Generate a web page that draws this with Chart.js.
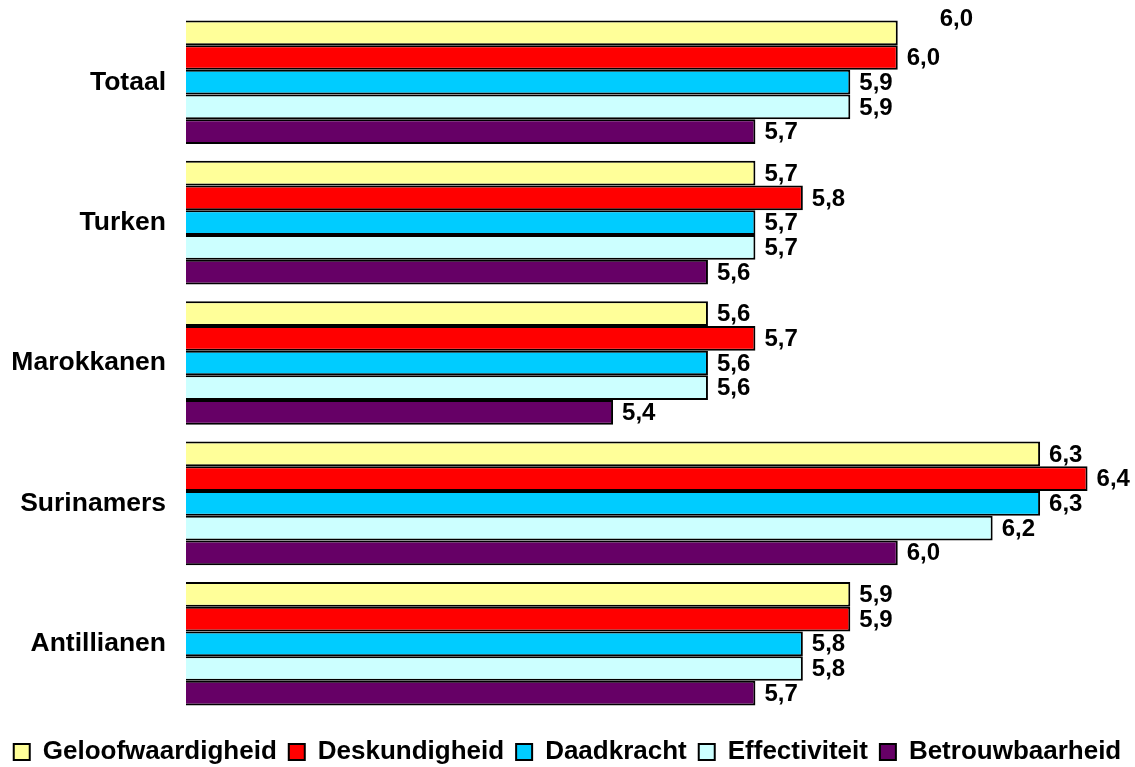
<!DOCTYPE html>
<html>
<head>
<meta charset="utf-8">
<script src="https://cdn.jsdelivr.net/npm/chart.js@4"></script>
<style>
  html, body { margin: 0; padding: 0; background: #fff; overflow: hidden; }
  #wrap { width: 1135px; height: 767px; }
</style>
</head>
<body>
<div id="wrap"><canvas id="chart1"></canvas></div>
<script>
// data
var categories = ['Totaal', 'Turken', 'Marokkanen', 'Surinamers', 'Antillianen'];
var geloofwaardigheid = [6.0, 5.7, 5.6, 6.3, 5.9];
var deskundigheid     = [6.0, 5.8, 5.7, 6.4, 5.9];
var daadkracht        = [5.9, 5.7, 5.6, 6.3, 5.8];
var effectiviteit     = [5.9, 5.7, 5.6, 6.2, 5.8];
var betrouwbaarheid   = [5.7, 5.6, 5.4, 6.0, 5.7];

var FONT = '"Liberation Sans", Arial, sans-serif';

// value labels at the end of each bar
var barLabels = {
    id: 'barLabels',
    afterDatasetsDraw: function(chart) {
        var ctx = chart.ctx;
        ctx.save();
        ctx.font = 'bold 24px ' + FONT;
        ctx.fillStyle = '#000';
        ctx.textBaseline = 'middle';
        ctx.textAlign = 'left';
        chart.data.datasets.forEach(function(ds, i) {
            var meta = chart.getDatasetMeta(i);
            meta.data.forEach(function(bar, j) {
                var dx = 9, dy = 1;
                // the first label sits higher and further right in the original
                if (i === 0 && j === 0) { dx = 42; dy = -13; }
                ctx.fillText(ds.data[j].toFixed(1).replace('.', ','), bar.x + dx, bar.y + dy);
            });
        });
        ctx.restore();
    }
};

var ctx = document.getElementById('chart1').getContext('2d');
var myChart = new Chart(ctx, {
    type: 'bar',
    data: {
        labels: categories,
        datasets: [
            { label: 'Geloofwaardigheid', data: geloofwaardigheid, backgroundColor: '#FFFF99' },
            { label: 'Deskundigheid', data: deskundigheid, backgroundColor: '#FF0000' },
            { label: 'Daadkracht', data: daadkracht, backgroundColor: '#00CCFF' },
            { label: 'Effectiviteit', data: effectiviteit, backgroundColor: '#CCFFFF' },
            { label: 'Betrouwbaarheid', data: betrouwbaarheid, backgroundColor: '#660066' }
        ]
    },
    options: {
        indexAxis: 'y',
        maintainAspectRatio: false,
        animation: false,
        barPercentage: 1.0,
        categoryPercentage: 0.88,
        layout: { padding: { top: 12, right: 0, bottom: -8, left: 0 } },
        datasets: {
            bar: { borderColor: '#000', borderWidth: 2, borderSkipped: false }
        },
        plugins: {
            legend: {
                position: 'bottom',
                labels: {
                    color: '#000',
                    font: { family: FONT, size: 26, weight: 'bold' },
                    boxWidth: 16,
                    boxHeight: 16,
                    padding: 12
                }
            },
            tooltip: { enabled: false }
        },
        scales: {
            x: {
                min: 4.5,
                max: 6.5,
                grid: { display: false, drawTicks: false },
                border: { display: false },
                ticks: { display: false },
                afterFit: function(scale) { scale.height = 13; }
            },
            y: {
                grid: { display: false, drawTicks: false },
                border: { display: false },
                ticks: {
                    color: '#000',
                    padding: 20,
                    font: { family: FONT, size: 26.5, weight: 'bold' }
                },
                afterFit: function(scale) {
                    scale.width = 186;
                    scale.paddingTop = 0;
                    scale.paddingBottom = 0;
                }
            }
        }
    },
    plugins: [barLabels]
});
</script>
</body>
</html>
